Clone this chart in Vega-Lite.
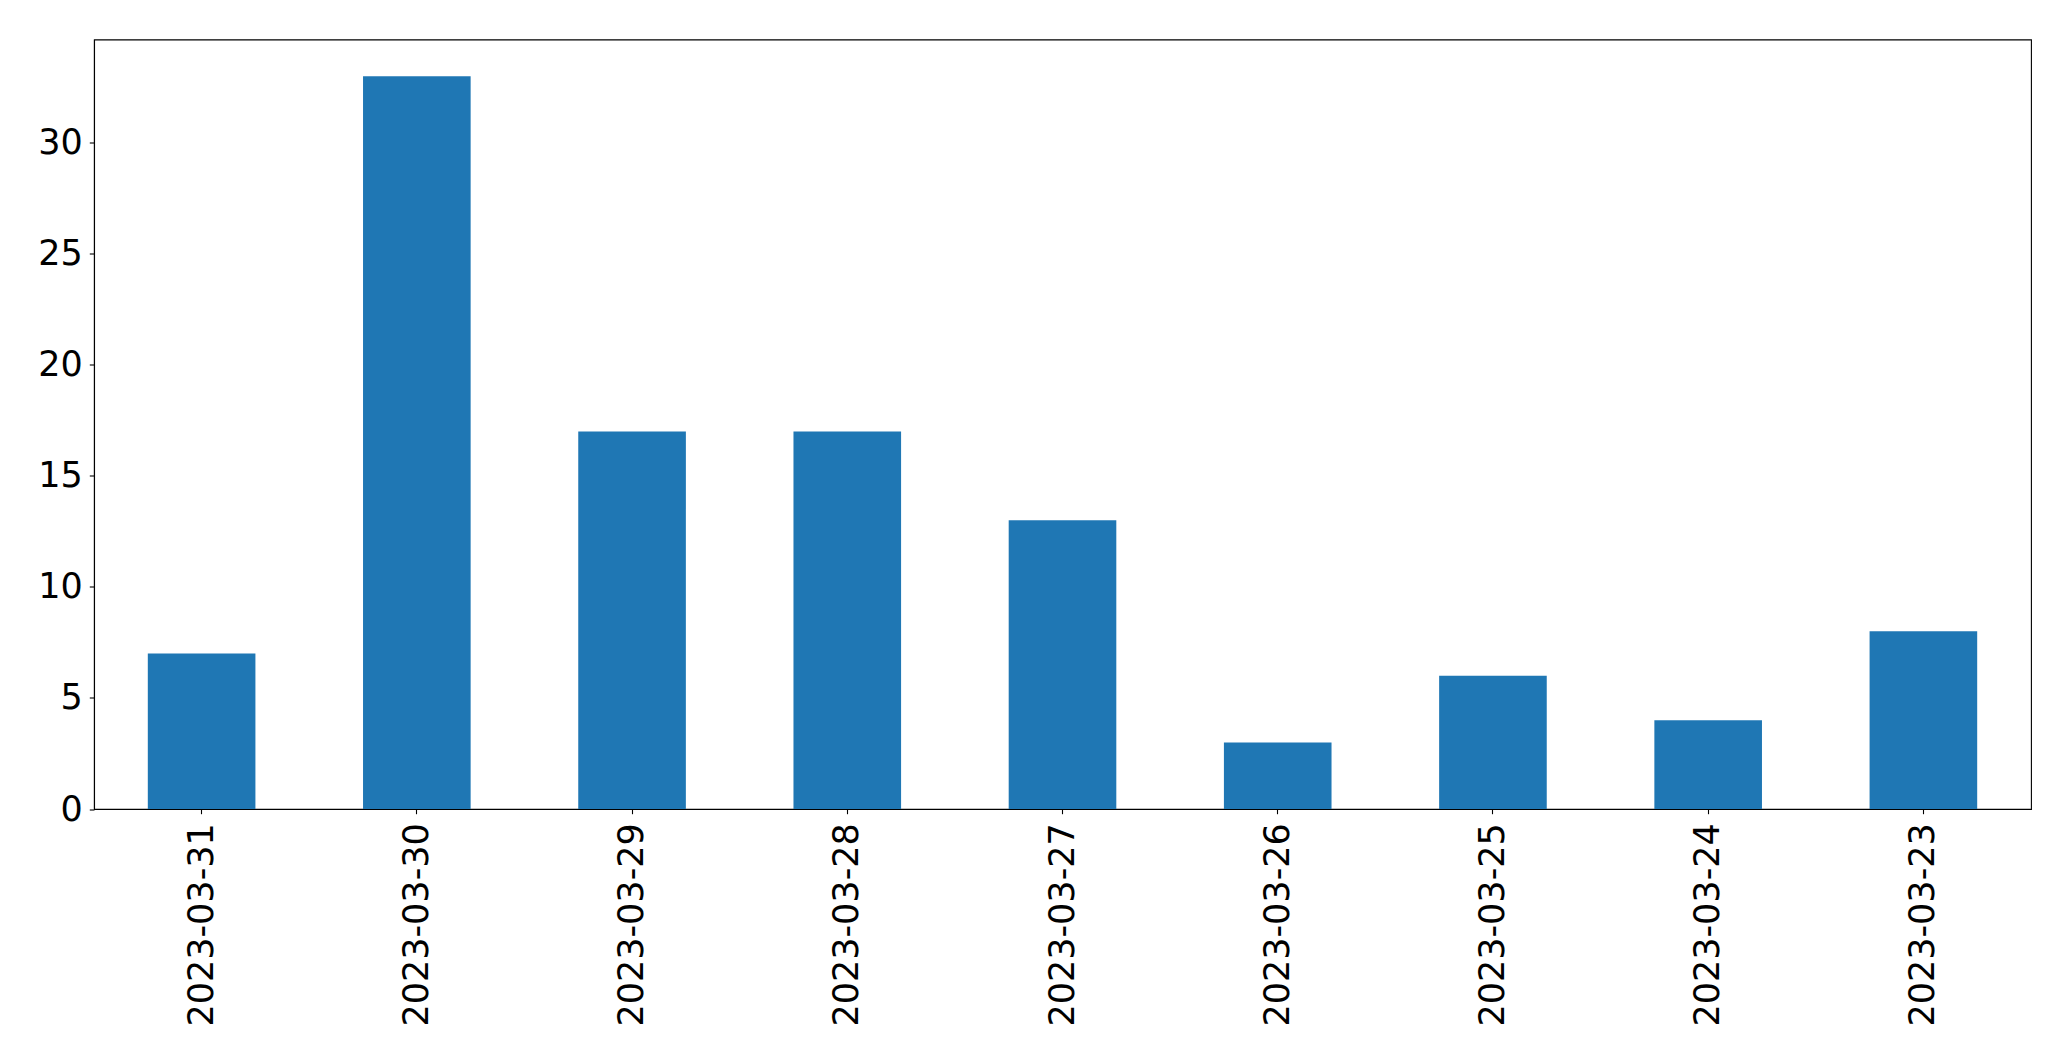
{
  "$schema": "https://vega.github.io/schema/vega-lite/v6.json",
  "autosize": {"type": "none"},
  "padding": {"left": 94, "top": 39.5, "right": 40, "bottom": 252},
  "width": 1937,
  "height": 769.5,
  "background": "white",
  "config": {
    "view": {"stroke": "black", "strokeWidth": 1.1},
    "font": "DejaVu Sans"
  },
  "data": {
    "values": [
      {"date": "2023-03-31", "count": 7},
      {"date": "2023-03-30", "count": 33},
      {"date": "2023-03-29", "count": 17},
      {"date": "2023-03-28", "count": 17},
      {"date": "2023-03-27", "count": 13},
      {"date": "2023-03-26", "count": 3},
      {"date": "2023-03-25", "count": 6},
      {"date": "2023-03-24", "count": 4},
      {"date": "2023-03-23", "count": 8}
    ]
  },
  "mark": {"type": "bar", "color": "#1f77b4"},
  "encoding": {
    "x": {
      "field": "date",
      "type": "nominal",
      "sort": null,
      "scale": {"paddingInner": 0.5, "paddingOuter": 0.25},
      "axis": {
        "title": null,
        "labelAngle": -90,
        "labelFont": "DejaVu Sans",
        "labelFontSize": 35,
        "labelColor": "black",
        "labelPadding": 9,
        "labelLimit": 0,
        "tickSize": 4.7,
        "tickColor": "black",
        "tickWidth": 1.1,
        "domainColor": "black",
        "domainWidth": 1.1,
        "grid": false
      }
    },
    "y": {
      "field": "count",
      "type": "quantitative",
      "scale": {"domain": [0, 34.65], "nice": false, "zero": true},
      "axis": {
        "title": null,
        "values": [0, 5, 10, 15, 20, 25, 30],
        "labelFont": "DejaVu Sans",
        "labelFontSize": 35,
        "labelColor": "black",
        "labelPadding": 7,
        "tickSize": 4.7,
        "tickColor": "black",
        "tickWidth": 1.1,
        "domainColor": "black",
        "domainWidth": 1.1,
        "grid": false
      }
    }
  }
}
